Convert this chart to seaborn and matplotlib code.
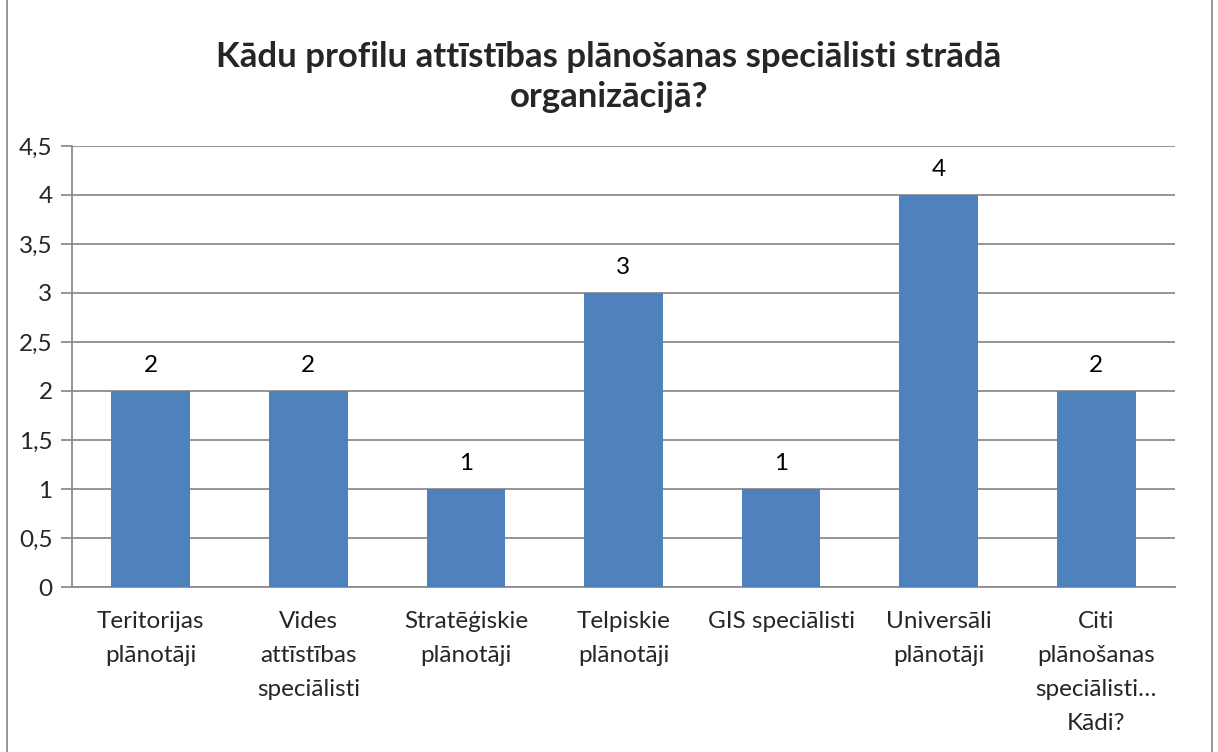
import pandas as pd
import matplotlib.pyplot as plt
import seaborn as sns
from matplotlib.patches import Rectangle
from matplotlib.ticker import FuncFormatter

# Data
categories = [
    "Teritorijas\nplānotāji",
    "Vides\nattīstības\nspeciālisti",
    "Stratēģiskie\nplānotāji",
    "Telpiskie\nplānotāji",
    "GIS speciālisti",
    "Universāli\nplānotāji",
    "Citi\nplānošanas\nspeciālisti…\nKādi?",
]
counts = [2, 2, 1, 3, 1, 4, 2]
y_ticks = [0, 0.5, 1, 1.5, 2, 2.5, 3, 3.5, 4, 4.5]

df = pd.DataFrame({"profile": categories, "count": counts})

sns.set_style("white")
plt.rcParams["font.family"] = ["Lato", "DejaVu Sans"]

fig = plt.figure(figsize=(12.18, 7.52), dpi=100)
ax = fig.add_axes([0.0591, 0.2194, 0.9056, 0.5865])

sns.barplot(data=df, x="profile", y="count", color="#4F81BD", saturation=1,
            width=0.5, ax=ax, zorder=3, linewidth=0)

ax.set_ylim(0, 4.5)
ax.set_xlim(-0.5, len(categories) - 0.5)
ax.set_yticks(y_ticks)
ax.yaxis.set_major_formatter(FuncFormatter(lambda v, p: f"{v:g}".replace(".", ",")))
ax.grid(axis="y", color="#8C8C8C", linewidth=1.3, zorder=0)
ax.set_xlabel("")
ax.set_ylabel("")

# value labels
for i, v in enumerate(counts):
    ax.text(i, v + 0.15, str(v), ha="center", va="bottom", fontsize=17.5, color="black")

# x ticks between categories, labels centred on bars
ax.set_xticks(range(len(categories)))
ax.set_xticklabels(categories, fontsize=17.5, linespacing=1.78, va="top")
ax.tick_params(axis="x", length=0, pad=17)
ax.set_xticks([i - 0.5 for i in range(len(categories) + 1)], minor=True)
ax.tick_params(axis="x", which="minor", length=9, width=1.3, color="#8C8C8C", direction="out")
ax.tick_params(axis="y", labelsize=17.5, length=8, width=1.3, color="#8C8C8C",
               direction="out", pad=6)
ax.tick_params(axis="y", left=True)

for side in ["top", "right"]:
    ax.spines[side].set_visible(False)
for side in ["left", "bottom"]:
    ax.spines[side].set_color("#8C8C8C")
    ax.spines[side].set_linewidth(1.3)

fig.text(0.5, 0.898, "Kādu profilu attīstības plānošanas speciālisti strādā\norganizācijā?",
         ha="center", va="center", fontsize=25, fontweight="bold", linespacing=1.32)

# chart border
fig.patches.append(Rectangle((0.006, -0.1), 0.989, 1.3, transform=fig.transFigure,
                             fill=False, edgecolor="#8C8C8C", linewidth=1.3))

fig.savefig("out.png", dpi=100)
